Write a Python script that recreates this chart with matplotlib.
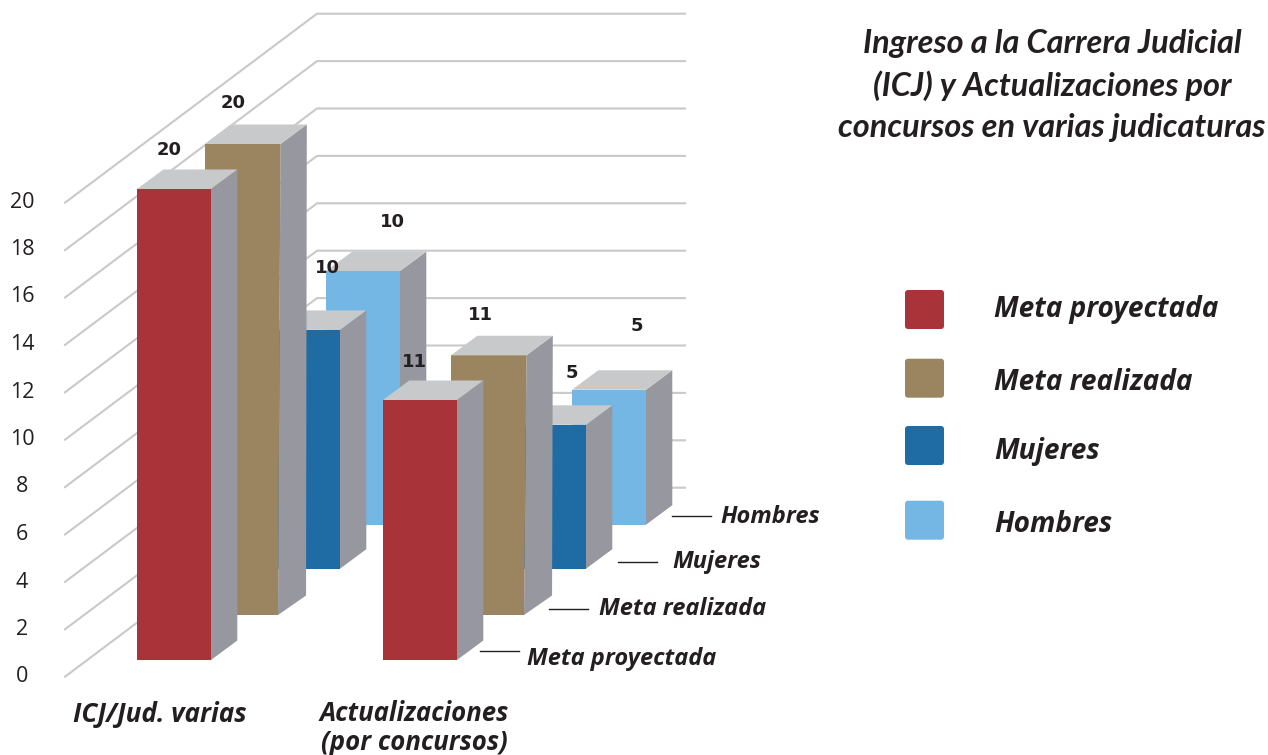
import matplotlib
matplotlib.use('Agg')
import matplotlib.pyplot as plt
from matplotlib.patches import FancyBboxPatch

# datos
series = ['Meta proyectada', 'Meta realizada', 'Mujeres', 'Hombres']
categories = ['ICJ/Jud. varias', 'Actualizaciones\n(por concursos)']
# la altura dibujada no siempre coincide con la etiqueta en el original
meta_proyectada = [20.0, 11.04]
meta_realizada = [20.0, 11.03]
mujeres = [10.14, 6.11]
hombres = [10.77, 5.73]
labels_proyectada = ['20', '11']
labels_realizada = ['20', '11']
labels_mujeres = ['10', '5']
labels_hombres = ['10', '5']
y_ticks = [0, 2, 4, 6, 8, 10, 12, 14, 16, 18, 20]

colors = ['#A83338', '#9B8560', '#1F6CA5', '#74B7E5']
side_color = '#96979F'
top_color = '#C8C9CB'
grid_color = '#C9C9C9'
text_color = '#231F20'

# escala y geometria en pixeles de la imagen
px_per_unit = 23.55
depth_x, depth_y = 26.3, 19.5
row_width = [74, 75.5, 74, 74]
row_x = [137, 205, 266, 326]
row_base = [660, 615, 568.7, 524.7]
cat_step = 246
# la barra marron esta un poco deformada abajo
row_skew = [0, 2.5, 0, 0]
# desplazamiento de las etiquetas respecto a la esquina de cada barra
label_dx = [[32, 31], [28, 29], [61, 60], [66, 65]]
label_dy = [[39, 38], [41, 40], [62, 52], [49, 64]]

fig = plt.figure(figsize=(12.68, 7.55), dpi=100)
ax = fig.add_axes([0, 0, 1, 1])
ax.set_xlim(0, 1268)
ax.set_ylim(755, 0)
ax.axis('off')

# rejilla
for t in y_ticks:
    y0 = 676.7 - 23.7 * t
    ax.plot([65, 317, 685], [y0, y0 - 189, y0 - 189], color=grid_color, lw=1.5, zorder=1,
            solid_joinstyle='miter')
    ax.text(22, 677 - 23.75 * t, str(t), ha='center', va='center', fontsize=15.5,
            family='Open Sans', color=text_color)


def draw_bar(x, base, value, width, color, skew, z):
    h = value * px_per_unit
    top = base - h
    r = x + width
    ax.fill([r, r + depth_x, r + depth_x - skew * 0.3, r - skew],
            [top, top - depth_y, base - depth_y, base], color=side_color, lw=0, zorder=z)
    ax.fill([x, x + depth_x, r + depth_x, r], [top, top - depth_y, top - depth_y, top],
            color=top_color, lw=0, zorder=z)
    ax.fill([x, r, r - skew, x], [top, top, base, base], color=color, lw=0, zorder=z)


values = [meta_proyectada, meta_realizada, mujeres, hombres]
for row in range(3, -1, -1):
    z = 5 + (3 - row) * 2
    for cat in range(2):
        draw_bar(row_x[row] + cat * cat_step, row_base[row], values[row][cat], row_width[row],
                 colors[row], row_skew[row], z + cat)

# etiquetas de valor
bar_labels = [labels_proyectada, labels_realizada, labels_mujeres, labels_hombres]
for row in range(4):
    for cat in range(2):
        top = row_base[row] - values[row][cat] * px_per_unit
        lx = row_x[row] + cat * cat_step + label_dx[row][cat]
        ax.text(lx, top - label_dy[row][cat], bar_labels[row][cat], ha='center', va='center',
                fontsize=13, fontweight='bold', family='DejaVu Sans', color=text_color, zorder=20)

# etiquetas de categoria
ax.text(159.5, 714, categories[0], ha='center', va='center', fontsize=18.8, style='italic',
        fontweight='bold', family='Open Sans', color=text_color, zorder=20)
ax.text(414, 728, categories[1], ha='center', va='center', fontsize=18.5, style='italic',
        fontweight='bold', family='Open Sans', color=text_color, linespacing=1.06, zorder=20)

# nombres de serie con su linea guia
leader_x = [480, 549, 618, 672]
leader_y = [651, 609, 562, 516]
name_x = [527, 599, 672, 720]
name_y = [659, 609, 562, 517]
for i, name in enumerate(series):
    ax.plot([leader_x[i], leader_x[i] + 39], [leader_y[i]] * 2, color=text_color, lw=1, zorder=20)
    ax.text(name_x[i], name_y[i], name, ha='left', va='center', fontsize=17, style='italic',
            fontweight='bold', family='Open Sans', color=text_color, zorder=20)

# titulo
title_lines = ['Ingreso a la Carrera Judicial', '(ICJ) y Actualizaciones por',
               'concursos en varias judicaturas']
title_y = [43, 86, 128]
for line, y in zip(title_lines, title_y):
    ax.text(1052, y, line, ha='center', va='center', fontsize=23.4, style='italic',
            fontweight='bold', family='Lato', color=text_color, zorder=20)

# leyenda
legend_top = [290, 358.7, 426, 500.7]
legend_text_y = [310, 382, 452, 524]
for i, name in enumerate(series):
    ax.add_patch(FancyBboxPatch((907, legend_top[i] + 2), 35, 35,
                                boxstyle='round,pad=2,rounding_size=3', fc=colors[i], ec='none',
                                zorder=20))
    ax.text(994.5, legend_text_y[i], name, ha='left', va='center', fontsize=20.2, style='italic',
            fontweight='bold', family='Open Sans', color=text_color, zorder=20)

fig.savefig('out.png', dpi=100)
